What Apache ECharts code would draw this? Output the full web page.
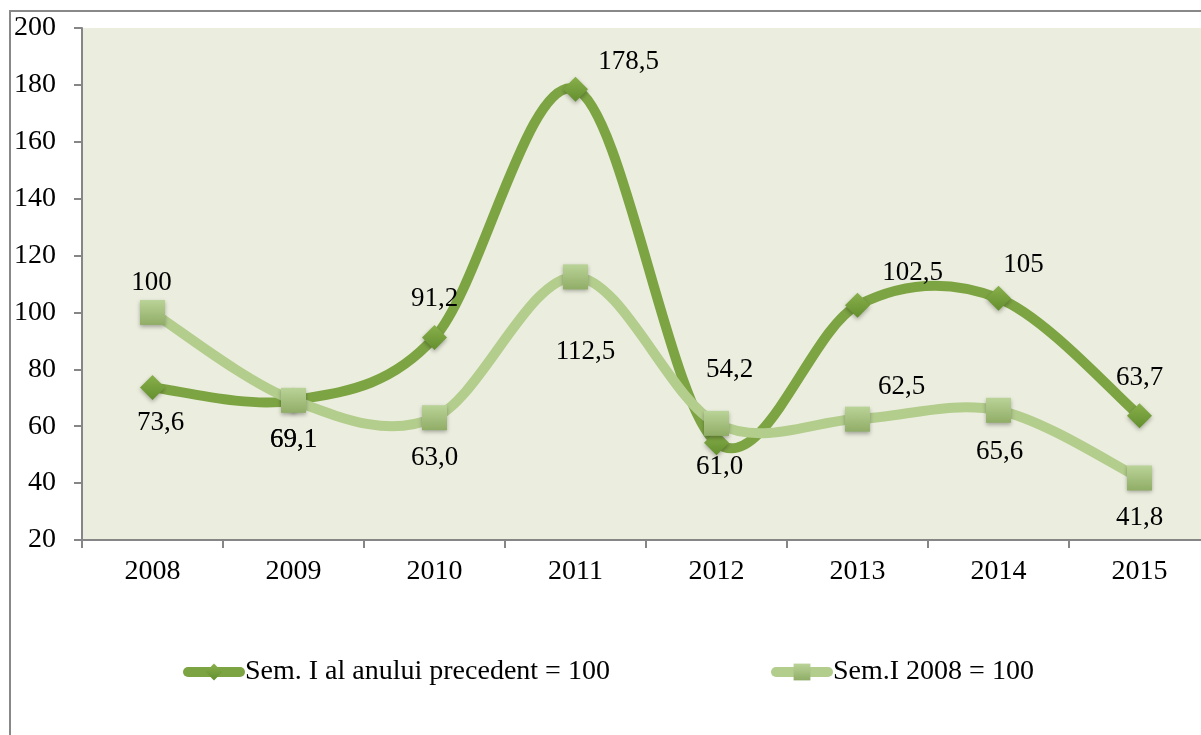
<!DOCTYPE html>
<html>
<head>
<meta charset="utf-8">
<script src="https://cdn.jsdelivr.net/npm/echarts@6/dist/echarts.min.js"></script>
<style>
  html, body { margin: 0; padding: 0; background: #fff; overflow: hidden; }
  /* graficul din original e taiat in dreapta, deci il facem putin mai lat decat fereastra */
  #myChart { width: 1210px; height: 735px; }
</style>
</head>
<body>
<div id="myChart"></div>
<script>
  // valorile
  let years = ['2008', '2009', '2010', '2011', '2012', '2013', '2014', '2015'];
  let semPrecedent = [73.6, 69.1, 91.2, 178.5, 54.2, 102.5, 105, 63.7];
  let sem2008 = [100, 69.1, 63.0, 112.5, 61.0, 62.5, 65.6, 41.8];
  let textPrecedent = ['73,6', '69,1', '91,2', '178,5', '54,2', '102,5', '105', '63,7'];
  let text2008 = ['100', '69,1', '63,0', '112,5', '61,0', '62,5', '65,6', '41,8'];
  let yTicks = [20, 40, 60, 80, 100, 120, 140, 160, 180, 200];
  let names = ['Sem. I al anului precedent = 100', 'Sem.I 2008 = 100'];

  // unde stau etichetele fata de punct (ca in Excel)
  let offDark = [[8, 35], [0, 40], [0, -39], [53, -27], [13, -73], [55, -32], [25, -33], [0, -38]];
  let offLight = [[-1, -30], [0, 40], [0, 40], [10, 75], [3, 44], [44, -32], [1, 42], [0, 40]];

  let fontFam = 'Liberation Serif';
  let darkColor = '#7DA443';
  let lightColor = '#B3CD8D';

  function mkData (vals, offs) {
    return vals.map((v, i) => ({ value: v, label: { offset: offs[i] } }));
  }

  // curba netezita ca in Excel (Catmull-Rom), desenata prin axele graficului
  function curveSeries (vals, color, z) {
    let n = vals.length;
    let at = k => Math.max(0, Math.min(n - 1, k));
    return {
      type: 'custom',
      silent: true,
      z: z,
      data: vals.map((v, i) => [years[i], v]),
      renderItem: (params, api) => {
        let i = params.dataIndex;
        if (i >= n - 1) return null;
        let p = k => api.coord([years[at(k)], vals[at(k)]]);
        let p0 = p(i - 1), p1 = p(i), p2 = p(i + 1), p3 = p(i + 2);
        return {
          type: 'bezierCurve',
          shape: {
            x1: p1[0], y1: p1[1], x2: p2[0], y2: p2[1],
            cpx1: p1[0] + (p2[0] - p0[0]) / 6, cpy1: p1[1] + (p2[1] - p0[1]) / 6,
            cpx2: p2[0] - (p3[0] - p1[0]) / 6, cpy2: p2[1] - (p3[1] - p1[1]) / 6
          },
          style: { stroke: color, lineWidth: 10, fill: 'none', lineCap: 'round' }
        };
      }
    };
  }

  function markerSeries (name, vals, offs, texts, symbol, size, top, bottom, z) {
    return {
      name: name,
      type: 'line',
      data: mkData(vals, offs),
      symbol: symbol,
      symbolSize: size,
      lineStyle: { width: 0, opacity: 0 },
      itemStyle: {
        color: new echarts.graphic.LinearGradient(0, 0, 0, 1, [
          { offset: 0, color: top }, { offset: 1, color: bottom }
        ]),
        borderWidth: 0,
        shadowBlur: 4, shadowOffsetY: 2, shadowColor: 'rgba(0,0,0,0.3)'
      },
      label: {
        show: true,
        position: 'inside',
        color: '#000',
        fontFamily: fontFam,
        fontSize: 27,
        formatter: p => texts[p.dataIndex]
      },
      z: z
    };
  }

  function mkLegend (name, left, color) {
    return {
      data: [name], left: left, top: 653,
      itemWidth: 52, itemHeight: 21, itemGap: 0,
      lineStyle: { color: color, width: 10, cap: 'round', opacity: 1 },
      textStyle: { fontFamily: fontFam, fontSize: 28, color: '#000' }
    };
  }

  let option = {
    animation: false,
    graphic: [{
      type: 'rect',
      shape: { x: 10, y: 11, width: 1400, height: 900 },
      style: { fill: 'none', stroke: '#888', lineWidth: 2 },
      z: 0
    }],
    grid: {
      left: 82, top: 28, right: 0, height: 512,
      show: true, backgroundColor: '#EBEEDE', borderWidth: 0
    },
    legend: [mkLegend(names[0], 178, darkColor), mkLegend(names[1], 766, lightColor)],
    xAxis: {
      type: 'category',
      data: years,
      boundaryGap: true,
      axisLine: { lineStyle: { color: '#868686', width: 2 } },
      axisTick: { show: true, length: 8, lineStyle: { color: '#868686', width: 2 } },
      axisLabel: { color: '#000', fontFamily: fontFam, fontSize: 28, margin: 18 },
      splitLine: { show: false }
    },
    yAxis: {
      type: 'value',
      min: yTicks[0], max: yTicks[yTicks.length - 1], interval: 20,
      axisLine: { show: true, lineStyle: { color: '#868686', width: 2 } },
      axisTick: { show: true, length: 8, lineStyle: { color: '#868686', width: 2 } },
      axisLabel: { color: '#000', fontFamily: fontFam, fontSize: 28, margin: 26 },
      splitLine: { show: false }
    },
    series: [
      curveSeries(semPrecedent, darkColor, 2),
      markerSeries(names[0], semPrecedent, offDark, textPrecedent, 'diamond', 25, '#88B04B', '#648F2E', 3),
      curveSeries(sem2008, lightColor, 4),
      markerSeries(names[1], sem2008, offLight, text2008, 'rect', 25, '#BAD398', '#90AD66', 5)
    ]
  };

  let myChart = echarts.init(document.getElementById('myChart'));
  myChart.setOption(option);
</script>
</body>
</html>
